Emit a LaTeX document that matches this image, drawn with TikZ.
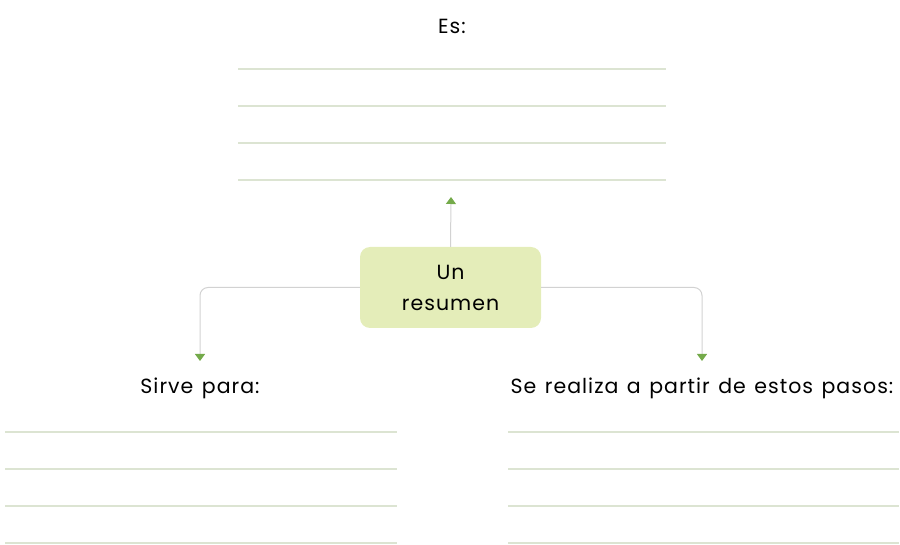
\documentclass[tikz,border=0pt]{standalone}
\usepackage{fontspec}
\setmainfont[LetterSpace=5,WordSpace=1.3]{Poppins}
\usetikzlibrary{arrows.meta}
\definecolor{boxgreen}{HTML}{E4EDB9}
\definecolor{tipgreen}{HTML}{74AA4A}
\definecolor{linegreen}{HTML}{DCE4D2}
\definecolor{conngray}{HTML}{D2D2D2}
\tikzset{
  label text/.style={font=\fontsize{20.5}{22}\selectfont,text=black},
  writeline/.style={draw=linegreen,line width=1.3pt},
  conn/.style={draw=conngray,line width=1pt,rounded corners=8pt,
    -{Triangle[width=10pt,length=7pt,color=tipgreen]}},
}
\begin{document}
\begin{tikzpicture}[x=1pt,y=-1pt]
			\useasboundingbox (0,0) rectangle (900,545);
			\node[label text] (Es) at (452,26) {Es:};
			\node[fill=boxgreen,rounded corners=10pt,minimum width=181pt,minimum height=81pt,
			  align=center,label text,font=\fontsize{20.5}{31}\selectfont] (Resumen) at (450.5,287.5) {Un\\resumen};
			\node[label text] (SirvePara) at (200,388) {Sirve para:};
			\node[label text] (Pasos) at (702,388) {Se realiza a partir de estos pasos:};

			\coordinate (TopTip) at (451,197);
			\coordinate (LeftTip) at (200,361);
			\coordinate (RightTip) at (702,361);

			% writing lines
			\foreach \y in {69,106,143,180}
				\draw[writeline] (238,\y) -- (666,\y);
			\foreach \y in {432,469,506,543} {
				\draw[writeline] (5,\y) -- (397,\y);
				\draw[writeline] (508,\y) -- (899,\y);
			}

			\draw[conn] (Resumen.north) -- (TopTip);
			\draw[conn] (Resumen.west) -| (LeftTip);
			\draw[conn] (Resumen.east) -| (RightTip);
\end{tikzpicture}
\end{document}
